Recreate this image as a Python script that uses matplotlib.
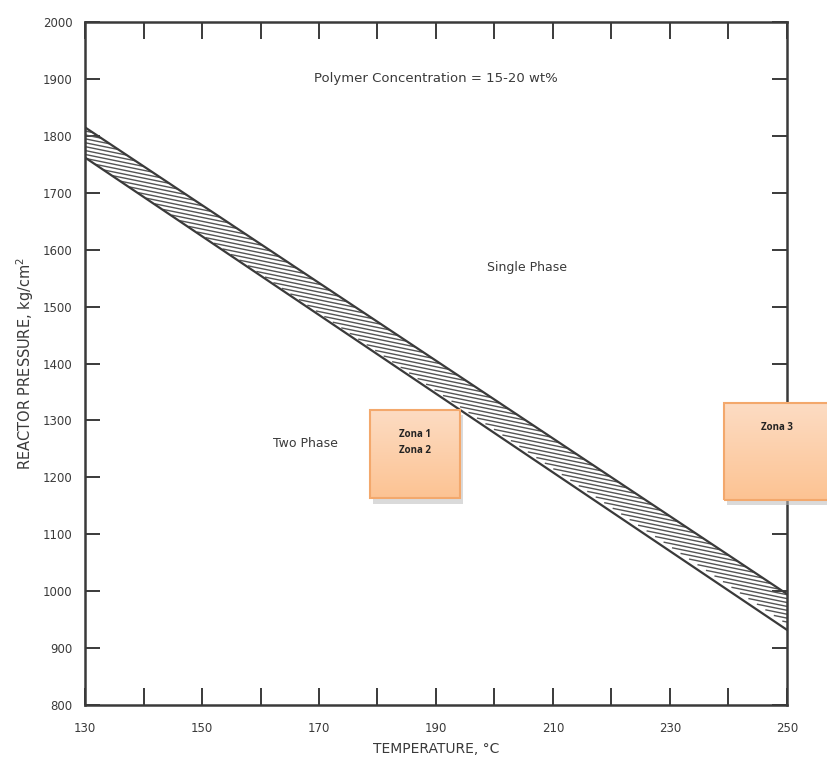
import numpy as np
import matplotlib
matplotlib.use("Agg")
import matplotlib.pyplot as plt
from matplotlib.patches import Rectangle
from matplotlib.colors import LinearSegmentedColormap
from matplotlib.collections import LineCollection

# ---- data ----
temps = [130, 250]
upper_bound = [1815, 995]   # kg/cm2
lower_bound = [1762, 932]
x_ticks = list(range(130, 251, 10))
x_labels = [str(t) if (t - 130) % 20 == 0 else "" for t in x_ticks]
y_ticks = list(range(800, 2001, 100))
y_labels = [str(v) for v in y_ticks]

zones = [  # (x0, x1, y0, y1, text)
    (178.7, 194.1, 1163, 1318, "Zona 1\nZona 2"),
    (239.2, 257.5, 1160, 1330, "Zona 3"),
]

ink = "#3a3a3a"
plt.rcParams['font.family'] = ['DejaVu Sans']

fig = plt.figure(figsize=(8.27, 7.61), dpi=100)
ax = fig.add_axes([0.1028, 0.0736, 0.9516 - 0.1028, 0.971 - 0.0736])
ax.set_xlim(130, 250)
ax.set_ylim(800, 2000)

# band boundaries
ax.plot(temps, upper_bound, color=ink, lw=1.6, zorder=3)
ax.plot(temps, lower_bound, color=ink, lw=1.6, zorder=3)

# custom shallow hatching inside the band
hatch_slope = -2.1   # kg/cm2 per degC (shallow strokes)
band_slope = (upper_bound[1] - upper_bound[0]) / (temps[1] - temps[0])
segs = []
for x1 in np.arange(110, 251, 1.45):
    y1 = lower_bound[0] + band_slope * (x1 - 130)
    x2 = (upper_bound[0] - band_slope * 130 - y1 + hatch_slope * x1) / (hatch_slope - band_slope)
    y2 = y1 + hatch_slope * (x2 - x1)
    xa, ya, xb, yb = x1, y1, x2, y2
    if xb < 130 or xa > 250:
        continue
    if xa < 130:
        ya = ya + hatch_slope * (130 - xa); xa = 130
    if xb > 250:
        yb = ya + hatch_slope * (250 - xa); xb = 250
    segs.append([(xa, ya), (xb, yb)])
ax.add_collection(LineCollection(segs, colors="#555555", linewidths=1.0, zorder=2))

ax.set_xticks(x_ticks)
ax.set_xticklabels(x_labels)
ax.set_yticks(y_ticks)
ax.set_yticklabels(y_labels)
ax.tick_params(axis='x', direction='in', length=12, width=1.4, color=ink,
               top=True, labelsize=8.5, labelcolor=ink, pad=12)
ax.tick_params(axis='y', direction='in', length=11, width=1.4, color=ink,
               right=True, labelsize=8.5, labelcolor=ink, pad=9)
for s in ax.spines.values():
    s.set_linewidth(1.8)
    s.set_color(ink)

ax.set_xlabel("TEMPERATURE, °C", fontsize=10, color=ink, labelpad=5)
ax.set_ylabel("REACTOR PRESSURE, kg/cm$^2$", fontsize=10.5, color=ink, labelpad=5)

ax.text(190, 1900, "Polymer Concentration = 15-20 wt%", ha='center', va='center',
        fontsize=9.5, color=ink)
ax.text(205.6, 1568, "Single Phase", ha='center', va='center', fontsize=9, color=ink)
ax.text(167.6, 1260, "Two Phase", ha='center', va='center', fontsize=9, color=ink)

# orange zone boxes with vertical gradient (lighter at top)
grad = np.linspace(0, 1, 100).reshape(-1, 1)
cmap = LinearSegmentedColormap.from_list("peach", ["#fddcc3", "#fcc393"])
for x0, x1, y0, y1, txt in zones:
    ax.add_patch(Rectangle((x0 + 0.5, y0 - 9), x1 - x0, y1 - y0, facecolor="#bdbdbd",
                           edgecolor="none", alpha=0.55, clip_on=False, zorder=4))
    ax.imshow(grad, extent=[x0, x1, y0, y1], cmap=cmap, aspect='auto',
              origin='upper', zorder=5, clip_on=False)
    ax.add_patch(Rectangle((x0, y0), x1 - x0, y1 - y0, facecolor="none",
                           edgecolor="#f3a86c", lw=1.5, clip_on=False, zorder=6))
    ax.text((x0 + x1) / 2, y1 - 33, txt, ha='center', va='top', fontsize=7,
            color="#222222", fontweight='bold', linespacing=1.6, zorder=7,
            family=['Open Sans', 'DejaVu Sans'])

ax.set_xlim(130, 250)
ax.set_ylim(800, 2000)

fig.savefig("out.png", dpi=100)
